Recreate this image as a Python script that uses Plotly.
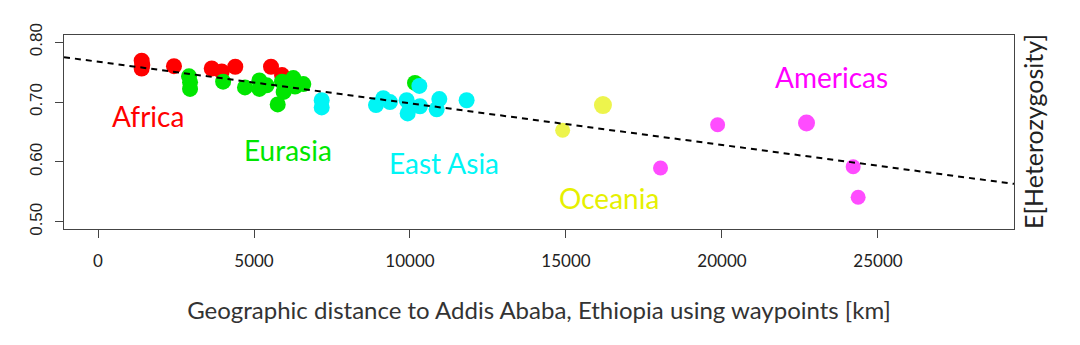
import plotly.graph_objects as go

# ---- data ----
africa_x = [1400, 1400, 1420, 2435, 3645, 3965, 4400, 5545, 5898]
africa_y = [0.769, 0.756, 0.762, 0.760, 0.756, 0.751, 0.759, 0.759, 0.745]

eurasia_x = [2917, 2950, 2950, 4010, 4711, 5172, 5172, 5405, 5898, 5950, 5760, 6260, 6315, 6580, 10160]
eurasia_y = [0.743, 0.733, 0.722, 0.734, 0.7245, 0.736, 0.722, 0.728, 0.734, 0.717, 0.696, 0.740, 0.726, 0.730, 0.732]

eastasia_x = [7170, 7170, 8910, 9144, 9358, 9893, 9925, 10000, 10320, 10300, 10940, 10855, 11815]
eastasia_y = [0.703, 0.691, 0.695, 0.7065, 0.700, 0.703, 0.681, 0.692, 0.693, 0.727, 0.705, 0.688, 0.703]

oceania_x = [14893, 16185]
oceania_y = [0.653, 0.695]
oceania_size = [15, 18]

americas_x = [18030, 19860, 22710, 24205, 24365]
americas_y = [0.590, 0.662, 0.665, 0.592, 0.541]
americas_size = [15, 15, 17, 15, 15]

region_names = ["Africa", "Eurasia", "East Asia", "Oceania", "Americas"]
region_colors = ["#ff0000", "#00e600", "#00f5f5", "#e6f000", "#ff00ff"]
label_x = [1600, 6090, 11090, 16380, 23525]
label_y = [0.677, 0.620, 0.599, 0.540, 0.742]

fit_intercept = 0.7674
fit_slope = -6.95e-6
x_range = [-1090, 29360]
y_range = [0.488, 0.812]
x_ticks = [0, 5000, 10000, 15000, 20000, 25000]
x_tick_labels = ["0", "5000", "10000", "15000", "20000", "25000"]
y_ticks = [0.50, 0.60, 0.70, 0.80]
y_tick_labels = ["0.50", "0.60", "0.70", "0.80"]

x_title = "Geographic distance to Addis Ababa, Ethiopia using waypoints [km]"
y_title = "E[Heterozygosity]"

fig = go.Figure()

groups = [
    (africa_x, africa_y, 16),
    (eurasia_x, eurasia_y, 16),
    (eastasia_x, eastasia_y, 16),
    (oceania_x, oceania_y, oceania_size),
    (americas_x, americas_y, americas_size),
]
for (gx, gy, sz), col, name in zip(groups, region_colors, region_names):
    fig.add_trace(go.Scatter(
        x=gx, y=gy, mode="markers", name=name,
        marker=dict(color=col, size=sz, line=dict(width=0)),
        showlegend=False, hoverinfo="x+y"))

fig.add_trace(go.Scatter(
    x=x_range, y=[fit_intercept + fit_slope * v for v in x_range],
    mode="lines", line=dict(color="black", width=2, dash="6px,5px"),
    showlegend=False, hoverinfo="skip"))

for name, col, lx, ly in zip(region_names, region_colors, label_x, label_y):
    fig.add_annotation(x=lx, y=ly, text=name, showarrow=False,
                       font=dict(family="Lato", size=28, color=col),
                       xanchor="center", yanchor="middle")

fig.add_annotation(xref="paper", yref="paper", x=1.0, y=0.5, xshift=19,
                   text=y_title, textangle=-90, showarrow=False,
                   font=dict(family="Lato", size=25, color="#222"),
                   xanchor="center", yanchor="middle")

fig.update_xaxes(range=x_range, tickvals=x_ticks, ticktext=x_tick_labels,
                 ticks="outside", ticklen=8, ticklabelstandoff=8,
                 tickcolor="#444", showline=True, linecolor="#444", linewidth=1.2,
                 mirror=True, showgrid=False, zeroline=False,
                 tickfont=dict(family="Lato", size=17, color="#222"),
                 title=dict(text=x_title, standoff=32,
                            font=dict(family="Lato", size=24, color="#333")))
fig.update_yaxes(range=y_range, tickvals=y_ticks, ticktext=y_tick_labels,
                 tickangle=-90, ticks="outside", ticklen=8, tickcolor="#444",
                 ticklabelstandoff=6,
                 showline=True, linecolor="#444", linewidth=1.2, mirror=True,
                 showgrid=False, zeroline=False,
                 tickfont=dict(family="Liberation Sans", size=17, color="#222"))

fig.update_layout(width=1080, height=345,
                  margin=dict(l=64, r=66, t=35, b=116),
                  plot_bgcolor="white", paper_bgcolor="white")

fig.write_html("out.html")
